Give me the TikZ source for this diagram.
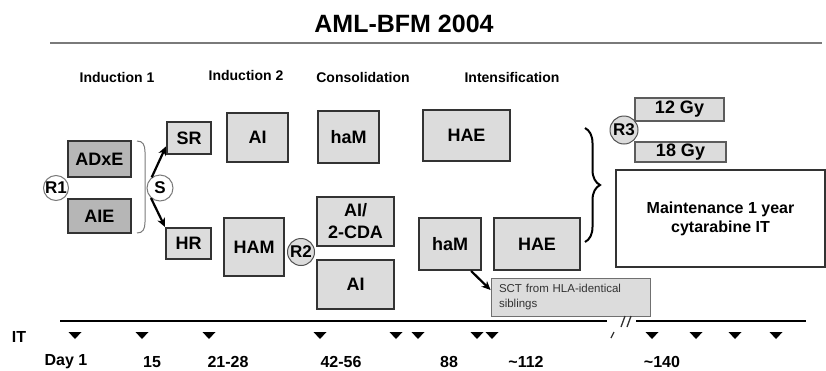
\documentclass[tikz,border=0pt]{standalone}
\usepackage{fontspec}
\setmainfont{Liberation Sans}
\usetikzlibrary{decorations.pathreplacing,arrows.meta}
\definecolor{boxfill}{HTML}{DCDCDC}
\definecolor{darkfill}{HTML}{B6B6B6}
\definecolor{boxline}{HTML}{333333}
\definecolor{ruleline}{HTML}{7A7A7A}
\begin{document}
\begin{tikzpicture}[x=1pt, y=-1pt, >={Stealth[length=9pt,width=8pt]}]
        \tikzstyle{phase}=[font=\fontsize{14}{16}\selectfont\bfseries]
        \tikzstyle{day}=[font=\fontsize{16}{18}\selectfont\bfseries]
        \tikzstyle{block}=[draw=boxline, fill=boxfill, line width=2pt, inner sep=0pt, align=center, font=\fontsize{18}{21}\selectfont\bfseries]
        \tikzstyle{darkblock}=[block, fill=darkfill]
        \tikzstyle{dose}=[block, line width=1.3pt, draw=boxline!80]
        \tikzstyle{rand}=[draw=ruleline, fill=white, shape=circle, line width=1pt, inner sep=0pt, minimum size=25pt, font=\fontsize{17}{19}\selectfont\bfseries]
        \tikzstyle{grayrand}=[rand, fill=boxfill, draw=boxline!85]
        \tikzstyle{tick}=[fill=black]

        \useasboundingbox (0,0) rectangle (826,370);

        % title and phases
        \node[font=\fontsize{25}{28}\selectfont\bfseries](title) at (404,24){AML-BFM 2004};
        \draw[ruleline, line width=2pt] (50,42.5) -- (822,42.5);
        \node[phase](ind1) at (117,77){Induction 1};
        \node[phase](ind2) at (246,75){Induction 2};
        \node[phase](cons) at (363,77){Consolidation};
        \node[phase](inten) at (512,77){Intensification};

        % induction 1
        \node[darkblock, minimum width=63pt, minimum height=36pt](adxe) at (99.5,159){ADxE};
        \node[darkblock, minimum width=63pt, minimum height=34pt](aie) at (99.5,216){AIE};
        \node[rand](r1) at (56,188){R1};
        \draw[ruleline, line width=1pt] (137,141) .. controls (143,141) and (145,145) .. (145,152) -- (145,222) .. controls (145,229) and (143,233) .. (137,233);
        \node[rand, minimum size=26pt](s) at (160,188){S};
        \node[block, minimum width=44pt, minimum height=32pt](sr) at (189,138){SR};
        \node[block, minimum width=45pt, minimum height=31pt](hr) at (188.5,243.5){HR};

        % induction 2
        \node[block, minimum width=61pt, minimum height=49pt](ai-1) at (257.5,137.5){AI};
        \node[block, minimum width=60pt, minimum height=58pt](ham) at (254,247){HAM};
        \node[grayrand, minimum size=27pt](r2) at (301,252){R2};

        % consolidation
        \node[block, minimum width=61pt, minimum height=52pt](ham-1) at (348.5,137){haM};
        \node[block, minimum width=77pt, minimum height=49pt, font=\fontsize{18}{22}\selectfont\bfseries](aicda) at (355.5,221.5){AI/\\2-CDA};
        \node[block, minimum width=77pt, minimum height=49pt](ai-2) at (355.5,284.5){AI};

        % intensification
        \node[block, minimum width=87pt, minimum height=51pt](hae-1) at (466.5,135.5){HAE};
        \node[block, minimum width=62pt, minimum height=52pt](ham-2) at (450,244){haM};
        \node[block, minimum width=86pt, minimum height=52pt](hae-2) at (537,244){HAE};
        \node[draw=boxline!70, fill=boxfill, line width=0.8pt, minimum width=159pt, minimum height=38pt, text width=143pt, inner sep=0pt, align=left, text=boxline, font=\fontsize{11.5}{15}\selectfont](sct) at (570.5,297){SCT from HLA-identical\\siblings};

        % maintenance
        \draw[decorate, decoration={brace, amplitude=15pt}, line width=2pt] (585,128) -- (585,242);
        \node[grayrand, minimum size=28pt](r3) at (624,130){R3};
        \node[dose, minimum width=89pt, minimum height=23pt](gy12) at (679.5,109.5){12 Gy};
        \node[dose, minimum width=91pt, minimum height=20pt](gy18) at (680.5,152){18 Gy};
        \node[block, fill=white, minimum width=209pt, minimum height=97pt, font=\fontsize{16}{19}\selectfont\bfseries](maint) at (720.5,218.5){Maintenance 1 year\\cytarabine IT};

        \draw[->, line width=2.2pt] (s.128) -- (sr.200);
        \draw[->, line width=2.2pt] (s.228) -- (hr.north west);
        \draw[->, line width=2.2pt] (ham-2.-52) -- (sct.175);

        % time line
        \draw[line width=1.8pt] (60,321) -- (607,321);
        \draw[line width=1.8pt] (636,321) -- (806,321);
        \draw[boxline, line width=1.3pt] (621,327) -- (625,316) (627,327) -- (631,316) (611,338) -- (614,332);
        \foreach \x in {75,142,209,320,396,418,477,492,652,696,735,776}
            \fill[tick] (\x-6.5,332) -- (\x+6.5,332) -- (\x,339) -- cycle;

        \node[day](it) at (19,337){IT};
        \node[day](d1) at (66,362){Day 1};
        \node[day](d15) at (152,362){15};
        \node[day](d21) at (228,362){21-28};
        \node[day](d42) at (341,362){42-56};
        \node[day](d88) at (449,362){88};
        \node[day](d112) at (526,362){\textasciitilde112};
        \node[day](d140) at (662,362){\textasciitilde140};

\end{tikzpicture}
\end{document}
